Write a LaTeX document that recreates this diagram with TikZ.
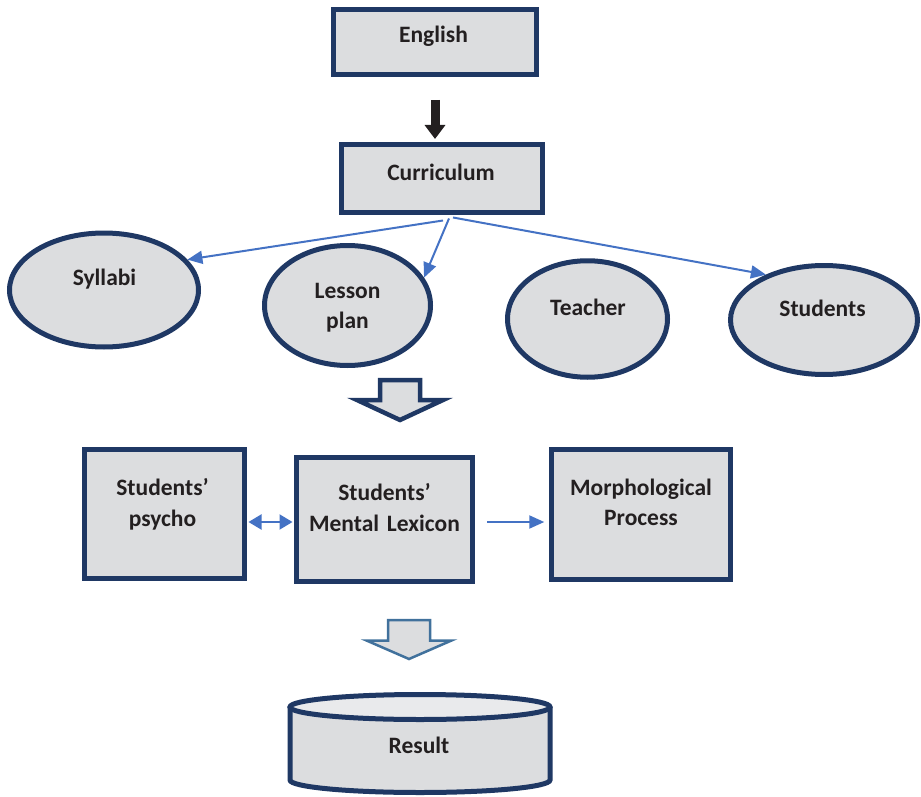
\documentclass[tikz,border=0pt]{standalone}
\usepackage{fontspec}
\setmainfont{Carlito}
\usetikzlibrary{arrows.meta,shapes.geometric,calc}
\definecolor{navy}{RGB}{31,56,100}
\definecolor{boxfill}{RGB}{220,221,223}
\definecolor{capfill}{RGB}{233,234,236}
\definecolor{flowblue}{RGB}{68,114,196}
\definecolor{steel}{RGB}{65,113,156}
\definecolor{ink}{RGB}{35,31,32}
\begin{document}
\begin{tikzpicture}[x=1pt,y=-1pt,
  shapebox/.style={draw=navy,fill=boxfill,line width=5pt,rectangle,inner sep=0pt},
  oval/.style={draw=navy,fill=boxfill,line width=5pt,ellipse,inner sep=0pt},
  caption/.style={text=ink,font=\fontsize{23.5}{30.5}\selectfont\bfseries,inner sep=0pt,
    anchor=base,align=center,text width=220pt},
  flow/.style={draw=flowblue,line width=2pt,-{Triangle[length=15pt,width=13pt]}},
  link/.style={draw=flowblue,line width=2pt,
    {Triangle[length=13pt,width=15pt]}-{Triangle[length=13pt,width=15pt]}},
  hollow/.style={fill=boxfill,line join=miter,miter limit=12},
]
\useasboundingbox (0,0) rectangle (921,797);

% top boxes
\node[shapebox,minimum width=202.5,minimum height=65] (eng) at (435,42.5) {};
\node[shapebox,minimum width=201.5,minimum height=67] (cur) at (442,178.5) {};

% ovals
\node[oval,minimum width=189,minimum height=114] (syl) at (104,290) {};
\node[oval,minimum width=166,minimum height=120] (les) at (347.5,305.5) {};
\node[oval,minimum width=160,minimum height=116.5] (tea) at (587.5,319) {};
\node[oval,minimum width=187,minimum height=109] (stu) at (824,320) {};

% middle row boxes
\node[shapebox,minimum width=160,minimum height=129] (psy) at (164.5,514) {};
\node[shapebox,minimum width=176,minimum height=124] (lex) at (384.5,519.5) {};
\node[shapebox,minimum width=178.5,minimum height=130] (mor) at (641,514.5) {};

% cylinder for the result
\fill[boxfill] (290,707) -- (290,780)
  arc[start angle=180,end angle=360,x radius=130pt,y radius=12.5pt] -- (550,707) -- cycle;
\draw[navy,line width=5pt] (290,707) -- (290,780)
  arc[start angle=180,end angle=360,x radius=130pt,y radius=12.5pt] -- (550,707);
\draw[navy,fill=capfill,line width=5pt] (420,707) ellipse[x radius=130pt,y radius=12.5pt];

% labels
\node[caption] (eng-t) at (433.5,43) {English};
\node[caption] (cur-t) at (441,180) {Curriculum};
\node[caption] (syl-t) at (104.5,285) {Syllabi};
\node[caption] (les-t) at (347.5,298) {Lesson\\plan};
\node[caption] (tea-t) at (588,315) {Teacher};
\node[caption] (stu-t) at (822.5,316.5) {Students};
\node[caption] (psy-t) at (162.5,495.5) {Students’\\psycho};
\node[caption] (lex-t) at (384.5,500.5) {Students’\\Mental Lexicon};
\node[caption] (mor-t) at (641,495) {Morphological\\Process};
\node[caption] (res-t) at (419,753) {Result};

% connectors
\draw[ink,line width=9pt,-{Triangle[length=14pt,width=20pt]},shorten <=22.5pt,shorten >=3.5pt]
  (eng.south) -- (eng.south |- cur.north);
\draw[flow] ($(cur.south)+(1,6)$) -- (syl.20);
\draw[flow] ($(cur.south)+(7,4)$) -- (les.20);
\draw[flow] ($(cur.south)+(11,3)$) -- (stu.142);
\draw[link] ($(psy.east)+(1.5,8)$) -- ($(lex.west)+(-1.5,2.5)$);
\draw[flow] ($(lex.east)+(12,2.5)$) -- ($(mor.west)+(-5,7.5)$);

% block arrows
\draw[hollow,draw=navy,line width=4.5pt] (380,380) -- (420,380) -- (420,400) -- (443,400)
  -- (400,420) -- (357,400) -- (380,400) -- cycle;
\draw[hollow,draw=steel,line width=2.5pt] (388,620) -- (430,620) -- (430,640.5) -- (451.5,640.5)
  -- (409,659) -- (366.5,640.5) -- (388,640.5) -- cycle;
\end{tikzpicture}
\end{document}
